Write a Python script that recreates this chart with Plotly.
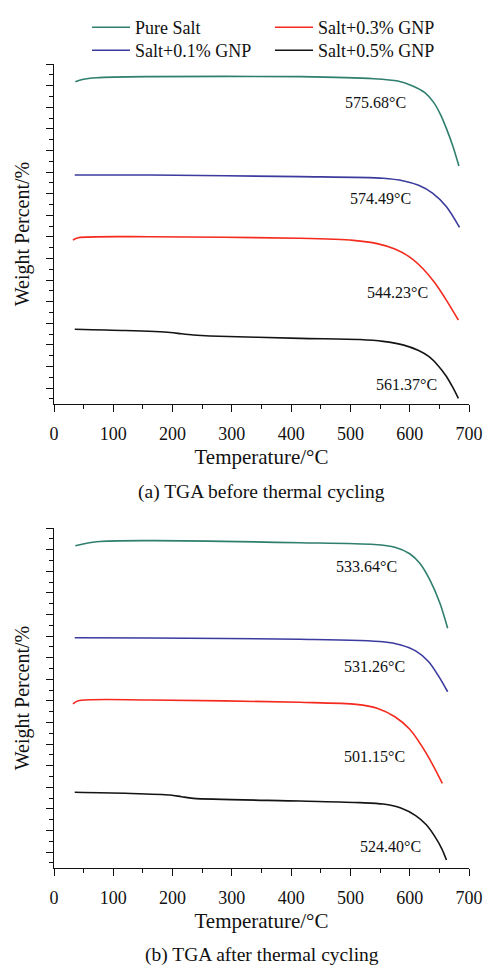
import plotly.graph_objects as go

# ---------------- data ----------------
series_names = ["Pure Salt", "Salt+0.1% GNP", "Salt+0.3% GNP", "Salt+0.5% GNP"]
series_colors = ["#2E7F6E", "#3B3B9E", "#F42A1E", "#141414"]
series_legend = ["legend", "legend2", "legend3", "legend4"]

# (a) before thermal cycling  -- weight percent in stacked/offset units
a_pure_T = [36, 48, 72, 162, 415, 540, 580, 605, 625, 640, 652, 662, 672, 683]
a_pure_W = [29.84, 30.05, 30.21, 30.31, 30.31, 30.12, 29.90, 29.45, 28.85, 27.95, 26.80, 25.50, 24.00, 22.04]
a_g01_T = [35, 162, 415, 555, 590, 615, 639, 662, 684]
a_g01_W = [21.20, 21.20, 21.05, 20.90, 20.65, 20.25, 19.51, 18.27, 16.36]
a_g03_T = [32, 41, 162, 415, 505, 545, 575, 600, 622, 642, 662, 682]
a_g03_W = [15.19, 15.40, 15.49, 15.34, 15.15, 14.85, 14.35, 13.60, 12.55, 11.25, 9.60, 7.78]
a_g05_T = [35, 120, 196, 215, 235, 263, 415, 516, 555, 590, 615, 632, 648, 662, 672, 682]
a_g05_W = [6.92, 6.80, 6.62, 6.50, 6.39, 6.30, 6.08, 5.97, 5.80, 5.45, 4.95, 4.40, 3.55, 2.55, 1.60, 0.53]

# (b) after thermal cycling
b_pure_T = [36, 72, 162, 415, 540, 575, 600, 617, 634, 651, 664]
b_pure_W = [29.84, 30.21, 30.31, 30.12, 29.95, 29.70, 29.10, 28.21, 26.67, 24.51, 22.19]
b_g01_T = [35, 162, 415, 555, 585, 610, 632, 650, 664]
b_g01_W = [21.32, 21.30, 21.18, 20.95, 20.65, 20.10, 19.10, 17.65, 16.32]
b_g03_T = [32, 41, 162, 415, 510, 545, 575, 600, 628, 655]
b_g03_W = [15.19, 15.49, 15.56, 15.34, 15.15, 14.80, 14.00, 12.85, 10.62, 7.84]
b_g05_T = [35, 120, 196, 215, 235, 415, 516, 555, 585, 610, 628, 642, 654, 662]
b_g05_W = [7.01, 6.92, 6.76, 6.60, 6.45, 6.20, 6.05, 5.92, 5.55, 4.85, 4.00, 2.95, 1.80, 0.74]

# onset temperature labels: text, x (°C), y (weight units)
a_labels = ["575.68°C", "574.49°C", "544.23°C", "561.37°C"]
a_label_x = [543, 550, 580, 595]
a_label_y = [27.96, 19.07, 10.28, 1.76]
b_labels = ["533.64°C", "531.26°C", "501.15°C", "524.40°C"]
b_label_x = [527, 540, 540, 568]
b_label_y = [27.90, 18.64, 10.31, 1.97]

x_ticks = [0, 100, 200, 300, 400, 500, 600, 700]
captions = ["(a) TGA before thermal cycling", "(b) TGA after thermal cycling"]
x_title = "Temperature/°C"
y_title = "Weight Percent/%"

# ---------------- figure ----------------
FONT = "Liberation Serif, Times New Roman, serif"
W, H = 485, 969
fig = go.Figure()

a_data = [(a_pure_T, a_pure_W), (a_g01_T, a_g01_W), (a_g03_T, a_g03_W), (a_g05_T, a_g05_W)]
b_data = [(b_pure_T, b_pure_W), (b_g01_T, b_g01_W), (b_g03_T, b_g03_W), (b_g05_T, b_g05_W)]

for i, (t, w) in enumerate(a_data):
    fig.add_trace(go.Scatter(x=t, y=w, mode="lines", name=series_names[i],
                             line=dict(color=series_colors[i], width=1.6, shape="spline", smoothing=0.8),
                             legend=series_legend[i], xaxis="x", yaxis="y"))
for i, (t, w) in enumerate(b_data):
    fig.add_trace(go.Scatter(x=t, y=w, mode="lines", name=series_names[i], showlegend=False,
                             line=dict(color=series_colors[i], width=1.6, shape="spline", smoothing=0.8),
                             xaxis="x2", yaxis="y2"))

def ydom(top_px, bot_px):
    return [1 - bot_px / H, 1 - top_px / H]

Y_TOP = 31.48
axis_common = dict(showline=True, linecolor="#111", linewidth=1.3, mirror=False,
                   showgrid=False, zeroline=False, ticks="outside", tickcolor="#111")

xcommon = dict(axis_common, range=[0, 700], tickvals=x_ticks, ticklen=7, tickwidth=1.2,
               minor=dict(dtick=50, tick0=0, ticks="outside", ticklen=3.5, tickcolor="#111", tickwidth=1.2),
               tickfont=dict(family=FONT, size=18, color="#111"), ticklabelstandoff=6,
               title=dict(text=x_title, font=dict(family=FONT, size=21, color="#111"), standoff=6))
ycommon = dict(axis_common, range=[0, Y_TOP], tick0=Y_TOP, dtick=2, ticklen=7, tickwidth=1.2,
               showticklabels=False,
               minor=dict(dtick=1, tick0=Y_TOP, ticks="outside", ticklen=3.5, tickcolor="#111", tickwidth=1.2),
               title=dict(text=y_title, font=dict(family=FONT, size=20, color="#111"), standoff=10))

leg_common = dict(orientation="v", xanchor="left", yanchor="top",
                  font=dict(family=FONT, size=18, color="#111"), bgcolor="rgba(0,0,0,0)",
                  itemwidth=38, tracegroupgap=0, borderwidth=0)
col_px = [87, 270]
row_top_px = [9, 32]

fig.update_layout(
    width=W, height=H,
    margin=dict(l=54, r=16, t=0, b=0),
    paper_bgcolor="white", plot_bgcolor="white",
    font=dict(family=FONT, color="#111"),
    xaxis=dict(xcommon, domain=[0, 1], anchor="y"),
    yaxis=dict(ycommon, domain=ydom(64, 404), anchor="x"),
    xaxis2=dict(xcommon, domain=[0, 1], anchor="y2"),
    yaxis2=dict(ycommon, domain=ydom(528, 868), anchor="x2"),
    legend=dict(leg_common, x=(col_px[0] - 54) / 415, y=1 - row_top_px[0] / H),
    legend2=dict(leg_common, x=(col_px[0] - 54) / 415, y=1 - row_top_px[1] / H),
    legend3=dict(leg_common, x=(col_px[1] - 54) / 415, y=1 - row_top_px[0] / H),
    legend4=dict(leg_common, x=(col_px[1] - 54) / 415, y=1 - row_top_px[1] / H),
    showlegend=True,
)

annotations = []
for txt, x, y in zip(a_labels, a_label_x, a_label_y):
    annotations.append(dict(text=txt, x=x, y=y, xref="x", yref="y", showarrow=False,
                            font=dict(family=FONT, size=16, color="#111")))
for txt, x, y in zip(b_labels, b_label_x, b_label_y):
    annotations.append(dict(text=txt, x=x, y=y, xref="x2", yref="y2", showarrow=False,
                            font=dict(family=FONT, size=16, color="#111")))
for txt, ypx in zip(captions, [492, 955]):
    annotations.append(dict(text=txt, x=0.5, y=1 - ypx / H, xref="paper", yref="paper",
                            xanchor="center", yanchor="middle", showarrow=False,
                            font=dict(family=FONT, size=19.5, color="#111")))
fig.update_layout(annotations=annotations)

fig.write_html("out.html")
